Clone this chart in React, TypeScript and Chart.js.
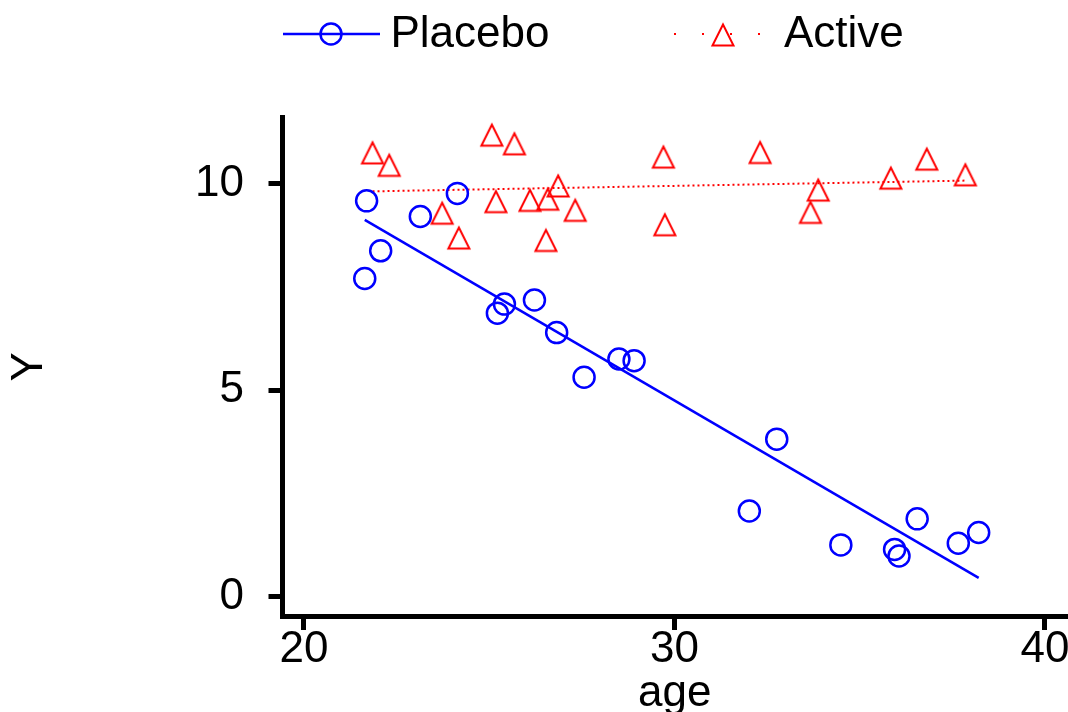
import React, { useEffect, useRef } from 'react';
import { Chart, registerables } from 'chart.js';

Chart.register(...registerables);

// ---- axis ranges & ticks ----
const X_MIN = 19.42;
const X_MAX = 40.594;
const Y_MIN = -0.472;
const Y_MAX = 11.598;
const X_TICKS = [20, 30, 40];
const Y_TICKS = [0, 5, 10];

// ---- data ----
const placeboAge = [21.64, 21.69, 22.07, 23.14, 24.14, 25.22, 25.41, 26.22, 26.82, 27.56, 28.5, 28.91, 32.02, 32.76, 34.49, 35.94, 36.06, 36.55, 37.66, 38.21];
const placeboY = [7.7, 9.58, 8.37, 9.2, 9.76, 6.86, 7.08, 7.18, 6.39, 5.31, 5.75, 5.71, 2.07, 3.81, 1.25, 1.14, 0.98, 1.88, 1.29, 1.55];
const activeAge = [21.85, 22.3, 23.73, 24.18, 25.07, 25.68, 25.18, 26.1, 26.58, 26.86, 26.53, 27.32, 29.7, 29.74, 32.31, 33.67, 33.88, 35.84, 36.81, 37.85];
const activeY = [10.74, 10.44, 9.28, 8.68, 11.17, 10.96, 9.56, 9.59, 9.62, 9.94, 8.62, 9.35, 10.64, 9.0, 10.75, 9.3, 9.84, 10.13, 10.59, 10.21];
const placeboFitAge = [21.64, 38.21];
const placeboFitY = [9.12, 0.45];
const activeFitAge = [21.85, 37.85];
const activeFitY = [9.81, 10.07];

const SERIES = ['Placebo', 'Active'];
const BLUE = '#0000ff';
const RED = '#ff0000';
const FONT = '"Liberation Sans", Arial, Helvetica, sans-serif';

function makeTriangle(): HTMLCanvasElement {
  const c = document.createElement('canvas');
  c.width = 28;
  c.height = 28;
  const g = c.getContext('2d')!;
  g.strokeStyle = RED;
  g.lineWidth = 2;
  g.lineJoin = 'miter';
  g.beginPath();
  g.moveTo(14, 3.5);
  g.lineTo(24.5, 24.5);
  g.lineTo(3.5, 24.5);
  g.closePath();
  g.stroke();
  return c;
}

const zip = (xs: number[], ys: number[]) => xs.map((x, i) => ({ x, y: ys[i] }));

export default function App() {
  const ref = useRef<HTMLCanvasElement | null>(null);

  useEffect(() => {
    document.body.style.margin = '0';
    const tri = makeTriangle();

    const legendPlugin = {
      id: 'customLegend',
      afterDraw(chart: any) {
        const ctx = chart.ctx as CanvasRenderingContext2D;
        const ds = chart.data.datasets;
        ctx.save();
        ctx.font = `44px ${FONT}`;
        ctx.textAlign = 'left';
        ctx.textBaseline = 'alphabetic';
        // Placebo
        ctx.strokeStyle = BLUE;
        ctx.lineWidth = 2.5;
        ctx.beginPath();
        ctx.moveTo(283, 34);
        ctx.lineTo(380, 34);
        ctx.stroke();
        ctx.beginPath();
        ctx.arc(331, 34, 10.5, 0, Math.PI * 2);
        ctx.stroke();
        ctx.fillStyle = '#000';
        ctx.fillText(ds[0].label, 390.5, 47);
        // Active
        ctx.strokeStyle = RED;
        ctx.lineWidth = 2;
        ctx.setLineDash([2, 26]);
        ctx.beginPath();
        ctx.moveTo(674, 34);
        ctx.lineTo(762, 34);
        ctx.stroke();
        ctx.setLineDash([]);
        ctx.drawImage(tri, 723 - 14, 35 - 14);
        ctx.fillText(ds[2].label, 784, 47);
        ctx.restore();
      },
    };

    const chart = new Chart(ref.current!, {
      type: 'scatter',
      data: {
        datasets: [
          {
            label: SERIES[0],
            data: zip(placeboAge, placeboY),
            pointStyle: 'circle',
            pointRadius: 10.5,
            pointBorderWidth: 2.5,
            pointBorderColor: BLUE,
            pointBackgroundColor: 'rgba(0,0,0,0)',
            showLine: false,
          },
          {
            label: SERIES[0] + ' fit',
            data: zip(placeboFitAge, placeboFitY),
            showLine: true,
            borderColor: BLUE,
            borderWidth: 2.5,
            pointRadius: 0,
          },
          {
            label: SERIES[1],
            data: zip(activeAge, activeY),
            pointStyle: tri as any,
            pointRadius: 12,
            showLine: false,
          },
          {
            label: SERIES[1] + ' fit',
            data: zip(activeFitAge, activeFitY),
            showLine: true,
            borderColor: RED,
            borderWidth: 2,
            borderDash: [2, 3],
            pointRadius: 0,
          },
        ],
      },
      options: {
        animation: false,
        responsive: false,
        events: [],
        layout: { autoPadding: false, padding: { top: 117.5, right: 1, left: 0, bottom: 0 } },
        plugins: {
          legend: { display: false },
          tooltip: { enabled: false },
        },
        scales: {
          x: {
            type: 'linear',
            position: 'bottom',
            min: X_MIN,
            max: X_MAX,
            afterBuildTicks: (s: any) => {
              s.ticks = X_TICKS.map((v) => ({ value: v }));
            },
            afterFit: (s: any) => {
              s.height = 96;
              s.paddingLeft = 0;
              s.paddingRight = 0;
            },
            grid: {
              display: true,
              drawOnChartArea: false,
              drawTicks: true,
              tickLength: 14,
              tickWidth: 5,
              tickColor: '#000',
            },
            border: { display: true, width: 5, color: '#000' },
            ticks: {
              color: '#000',
              font: { family: FONT, size: 44, lineHeight: 1 },
              padding: -2,
              maxRotation: 0,
              autoSkip: false,
            },
            title: {
              display: true,
              text: 'age',
              color: '#000',
              font: { family: FONT, size: 44, lineHeight: 1 },
              padding: { top: 0, bottom: -4 },
            },
          },
          y: {
            type: 'linear',
            position: 'left',
            min: Y_MIN,
            max: Y_MAX,
            afterBuildTicks: (s: any) => {
              s.ticks = Y_TICKS.map((v) => ({ value: v }));
            },
            afterFit: (s: any) => {
              s.width = 282.5;
              s.paddingTop = 0;
              s.paddingBottom = 0;
            },
            grid: {
              display: true,
              drawOnChartArea: false,
              drawTicks: true,
              tickLength: 14,
              tickWidth: 5,
              tickColor: '#000',
            },
            border: { display: true, width: 5, color: '#000' },
            ticks: {
              color: '#000',
              font: { family: FONT, size: 44, lineHeight: 1 },
              padding: 24.5,
              autoSkip: false,
            },
            title: {
              display: true,
              text: 'Y',
              color: '#000',
              font: { family: FONT, size: 44, lineHeight: 1 },
              padding: { top: 8, bottom: 0 },
            },
          },
        },
      },
      plugins: [legendPlugin],
    });
    return () => chart.destroy();
  }, []);

  return (
    <div style={{ width: 1068, height: 712, background: '#fff' }}>
      <canvas ref={ref} width={1068} height={712} style={{ display: 'block' }} />
    </div>
  );
}
